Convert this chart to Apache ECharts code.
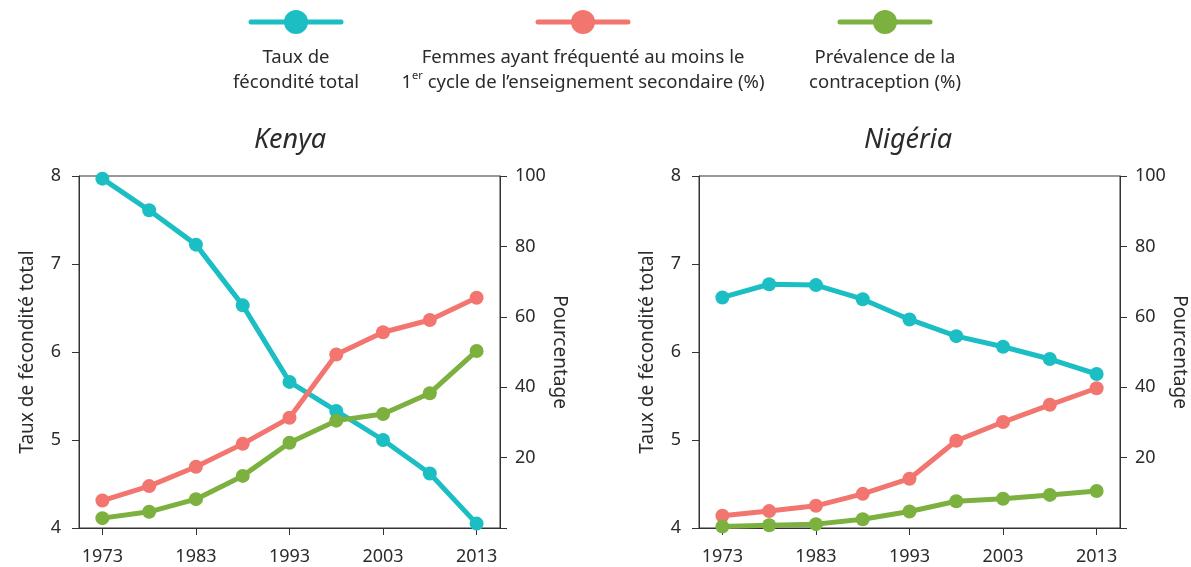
<!DOCTYPE html>
<html>
<head>
<meta charset="utf-8">
<script src="https://cdn.jsdelivr.net/npm/echarts@6/dist/echarts.min.js"></script>
<style>
  html, body { margin: 0; padding: 0; background: #fff; }
  #chart { width: 1191px; height: 567px; }
</style>
</head>
<body>
<div id="chart"></div>
<script>
// Survey years (categories on the x axis)
const years = ['1973', '1978', '1983', '1988', '1993', '1998', '2003', '2008', '2013'];

// Kenya
const kenyaFertility = [7.97, 7.61, 7.22, 6.53, 5.66, 5.33, 5.0, 4.62, 4.05];
const kenyaEducation = [7.8, 11.9, 17.4, 23.9, 31.3, 49.3, 55.6, 59.1, 65.4];
const kenyaContraception = [2.8, 4.6, 8.2, 14.8, 24.2, 30.5, 32.4, 38.3, 50.3];

// Nigeria
const nigeriaFertility = [6.62, 6.77, 6.76, 6.60, 6.37, 6.18, 6.06, 5.92, 5.75];
const nigeriaEducation = [3.5, 4.8, 6.3, 9.7, 14.0, 24.8, 30.1, 35.0, 39.7];
const nigeriaContraception = [0.4, 0.8, 1.1, 2.5, 4.7, 7.6, 8.3, 9.4, 10.5];

// Panel titles and legend texts
const panelTitles = ['Kenya', 'Nigéria'];
const seriesNames = [
  'Taux de fécondité total',
  'Femmes ayant fréquenté au moins le 1er cycle de l’enseignement secondaire (%)',
  'Prévalence de la contraception (%)'
];
const leftAxisName = 'Taux de fécondité total';
const rightAxisName = 'Pourcentage';

const COLORS = ['#1BBEC3', '#F2766F', '#7CB03F'];
const FONT = '"Noto Sans", "Open Sans", sans-serif';
const TXT = '#2b2b2b';
const AXC = '#333333';

const grids = [
  { left: 79, top: 176, width: 421, height: 352, show: true, borderColor: AXC, borderWidth: 1 },
  { left: 699, top: 176, width: 421, height: 352, show: true, borderColor: AXC, borderWidth: 1 }
];

function xAxis(gi) {
  return {
    type: 'category', gridIndex: gi, data: years, boundaryGap: true,
    axisLine: { show: true, lineStyle: { color: AXC, width: 1 } },
    axisTick: { show: true, alignWithLabel: true, interval: 1, length: 7, lineStyle: { color: AXC } },
    axisLabel: { interval: 1, color: TXT, fontSize: 18, fontFamily: FONT, margin: 20 },
    splitLine: { show: false }
  };
}
function leftAxis(gi) {
  return {
    type: 'value', gridIndex: gi, position: 'left', min: 4, max: 8, interval: 1,
    name: leftAxisName, nameLocation: 'middle', nameGap: 42, nameRotate: 90,
    nameTextStyle: { color: TXT, fontSize: 19, fontFamily: FONT },
    axisLine: { show: true, lineStyle: { color: AXC } },
    axisTick: { show: true, length: 7, lineStyle: { color: AXC } },
    axisLabel: { color: TXT, fontSize: 18, fontFamily: FONT, margin: 18 },
    splitLine: { show: false }
  };
}
function rightAxis(gi) {
  return {
    type: 'value', gridIndex: gi, position: 'right', min: 0, max: 100, interval: 20,
    name: rightAxisName, nameLocation: 'middle', nameGap: 50, nameRotate: -90,
    nameTextStyle: { color: TXT, fontSize: 19, fontFamily: FONT },
    axisLine: { show: true, lineStyle: { color: AXC } },
    axisTick: { show: true, length: 7, lineStyle: { color: AXC } },
    axisLabel: { color: TXT, fontSize: 18, fontFamily: FONT, margin: 15,
      formatter: v => (v === 0 ? '' : String(v)) },
    splitLine: { show: false }
  };
}
function line(name, data, color, xi, yi) {
  return {
    type: 'line', name, data, xAxisIndex: xi, yAxisIndex: yi,
    symbol: 'circle', symbolSize: 14, smooth: false,
    lineStyle: { color, width: 5 }, itemStyle: { color },
    emphasis: { disabled: true }, animation: false, z: 3
  };
}

// Legend drawn as graphic items: line + dot above a centered two-line caption
function legendItem(cx, color, textLines) {
  return [
    { type: 'line', shape: { x1: cx - 45, y1: 22, x2: cx + 45, y2: 22 },
      style: { stroke: color, lineWidth: 5, lineCap: 'round' } },
    { type: 'circle', shape: { cx: cx, cy: 22, r: 12 }, style: { fill: color } },
    { type: 'text', x: cx, y: 45,
      style: Object.assign({ align: 'center', verticalAlign: 'top', fill: TXT,
        font: '18.5px ' + FONT, lineHeight: 25 }, textLines) }
  ];
}

const graphic = [].concat(
  legendItem(296, COLORS[0], { text: 'Taux de\nfécondité total' }),
  legendItem(583, COLORS[1], {
    text: 'Femmes ayant fréquenté au moins le\n{n|1}{s|er}{n| cycle de l’enseignement secondaire (%)}',
    rich: {
      n: { font: '18.5px ' + FONT, fill: TXT, lineHeight: 25 },
      s: { font: '11px ' + FONT, fill: TXT, verticalAlign: 'top', lineHeight: 25, padding: [0, 0, 9, 0] }
    }
  }),
  legendItem(885, COLORS[2], { text: 'Prévalence de la\ncontraception (%)' }),
  [
    { type: 'text', x: 290, y: 140, style: { text: panelTitles[0], align: 'center', verticalAlign: 'middle',
      fill: TXT, font: 'italic 27px ' + FONT } },
    { type: 'text', x: 908, y: 140, style: { text: panelTitles[1], align: 'center', verticalAlign: 'middle',
      fill: TXT, font: 'italic 27px ' + FONT } }
  ]
);

const option = {
  backgroundColor: '#ffffff',
  animation: false,
  grid: grids,
  xAxis: [xAxis(0), xAxis(1)],
  yAxis: [leftAxis(0), rightAxis(0), leftAxis(1), rightAxis(1)],
  series: [
    line(seriesNames[0], kenyaFertility, COLORS[0], 0, 0),
    line(seriesNames[1], kenyaEducation, COLORS[1], 0, 1),
    line(seriesNames[2], kenyaContraception, COLORS[2], 0, 1),
    line(seriesNames[0], nigeriaFertility, COLORS[0], 1, 2),
    line(seriesNames[1], nigeriaEducation, COLORS[1], 1, 3),
    line(seriesNames[2], nigeriaContraception, COLORS[2], 1, 3)
  ],
  graphic: graphic
};

const chart = echarts.init(document.getElementById('chart'), null, { renderer: 'canvas' });
chart.setOption(option);
</script>
</body>
</html>
